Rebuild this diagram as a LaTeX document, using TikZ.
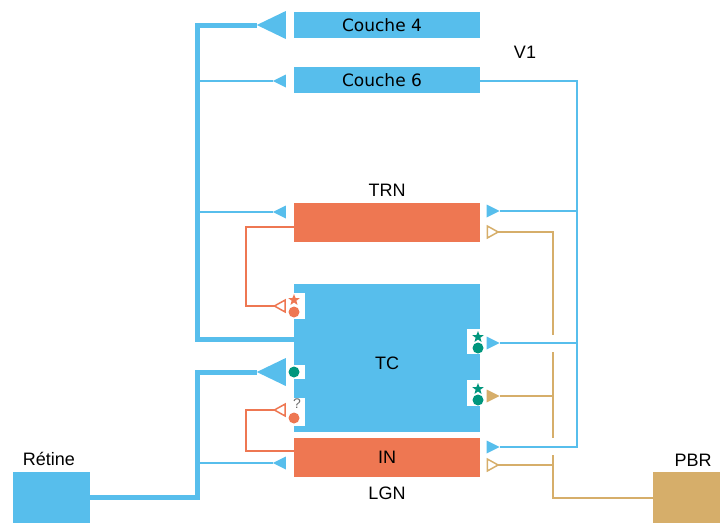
\documentclass[tikz,border=0pt]{standalone}
\usepackage{fontspec}
\setmainfont{Liberation Sans}
\newfontfamily\dejavu{DejaVu Sans}
\usetikzlibrary{arrows.meta,shapes.geometric}

\definecolor{bleu}{HTML}{57BEEC}
\definecolor{orangeTRN}{HTML}{EE7752}
\definecolor{beige}{HTML}{D6AE6A}
\definecolor{vert}{HTML}{00967D}
\definecolor{grisq}{HTML}{6E6E6E}

\tikzset{
  synB/.tip={Triangle[reversed,width=28pt,length=29pt,line width=0pt]},
  syn/.tip={Triangle[reversed,width=13pt,length=13pt,line width=0pt]},
  synO/.tip={Triangle[reversed,open,width=14pt,length=13pt,line width=1.5pt]},
  boite/.style={minimum width=186pt, inner sep=0pt, font=\fontsize{18}{20}\selectfont},
  couche/.style={boite, fill=bleu, minimum height=26pt, font=\dejavu\fontsize{17}{19}\selectfont},
  etiquette/.style={font=\fontsize{18}{20}\selectfont},
  voie/.style={draw=bleu, line width=2pt},
  grosse voie/.style={draw=bleu, line width=5pt},
  voie orange/.style={draw=orangeTRN, line width=2pt},
  voie beige/.style={draw=beige, line width=2pt},
  etoile/.style={star, star points=5, star point ratio=2.4, inner sep=0pt, minimum size=12pt},
}

\begin{document}
\begin{tikzpicture}[x=1pt,y=-1pt]
\useasboundingbox (0,0) rectangle (720,523);

% Cortex V1
\node[couche] (c4) at (387,25) {};
\node[font=\dejavu\fontsize{17}{19}\selectfont] (c4lab) at (382,25) {Couche 4};
\node[couche] (c6) at (387,80) {};
\node[font=\dejavu\fontsize{17}{19}\selectfont] (c6lab) at (382,80) {Couche 6};
\node[etiquette] (v1) at (525,52) {V1};

% Thalamus
\node[boite, fill=orangeTRN, minimum height=39pt] (trn) at (387,222.5) {};
\node[etiquette] (trnlab) at (387,190) {TRN};
\node[boite, fill=bleu, minimum height=148pt] (tc) at (387,358) {};
\node[etiquette] (tclab) at (387,363) {TC};
\node[boite, fill=orangeTRN, minimum height=39pt] (in) at (387,457.5) {IN};
\node[etiquette] (lgn) at (387,493) {LGN};

% Entrees
\node[fill=bleu, minimum width=77pt, minimum height=51pt, inner sep=0pt] (retine) at (51.5,497.5) {};
\node[etiquette] (retlab) at (49,459) {Rétine};
\node[fill=beige, minimum width=67pt, minimum height=51pt, inner sep=0pt] (pbr) at (686.5,497.5) {};
\node[etiquette] (pbrlab) at (693,460) {PBR};

% Bus
\coordinate (busL) at (197,0);
\coordinate (busR) at (577,0);
\coordinate (busT) at (553,0);

% Voies epaisses
\draw[grosse voie, -synB, shorten >=8pt] (tc.west |- 0,339) -| (busL |- c4.west) -- (c4.west);
\draw[grosse voie, -synB, shorten >=8pt] (retine.east) -| (busL |- 0,372) -- (tc.west |- 0,372);

% Voies minces a gauche
\draw[voie, -syn, shorten >=8pt] (busL |- 0,81) -- (c6.west |- 0,81);
\draw[voie, -syn, shorten >=8pt] (busL |- 0,212) -- (trn.west |- 0,212);
\draw[voie, -syn, shorten >=8pt] (busL |- 0,463) -- (in.west |- 0,463);

% Voies orange (TRN, IN)
\draw[voie orange, -synO, shorten >=8pt] (trn.west |- 0,227) -| (246,306) -- (tc.west |- 0,306);
\draw[voie orange, -synO, shorten >=8pt] (in.west |- 0,451) -| (246,410) -- (tc.west |- 0,410);

% Voies beiges (PBR)
\draw[voie beige, -synO, shorten >=6.5pt] (pbr.west) -| (busT |- 0,232) -- (trn.east |- 0,232);
\draw[voie beige, -syn, shorten >=6.5pt] (busT |- 0,396) -- (tc.east |- 0,396);
\draw[voie beige, -synO, shorten >=6.5pt] (busT |- 0,465) -- (in.east |- 0,465);
\fill[white] (550,335) rectangle (556,352);
\fill[white] (550,438) rectangle (556,455);

% Voies minces a droite (Couche 6)
\draw[voie, -syn, shorten >=6.5pt] (c6.east |- 0,81) -| (busR |- 0,447) -- (in.east |- 0,447);
\draw[voie, -syn, shorten >=6.5pt] (busR |- 0,211) -- (trn.east |- 0,211);
\draw[voie, -syn, shorten >=6.5pt] (busR |- 0,343) -- (tc.east |- 0,343);

% Encoches sur TC
\fill[white] (294,293) rectangle (305,319);
\node[etoile, fill=orangeTRN] (e1) at (294,300) {};
\fill[orangeTRN] (294,312) circle (5.5pt);
\fill[white] (294,365) rectangle (305,379);
\fill[vert] (294,372) circle (5.5pt);
\fill[white] (294,398) rectangle (305,426);
\node[text=grisq, font=\fontsize{14}{14}\selectfont, inner sep=0pt] (q) at (297,404) {?};
\fill[orangeTRN] (294,418) circle (5.5pt);
\fill[white] (467,329) rectangle (481,354);
\node[etoile, fill=vert] (e2) at (478,337) {};
\fill[vert] (478,348) circle (5.5pt);
\fill[white] (467,380) rectangle (481,406);
\node[etoile, fill=vert] (e3) at (478,389) {};
\fill[vert] (478,400) circle (5.5pt);

\end{tikzpicture}
\end{document}
